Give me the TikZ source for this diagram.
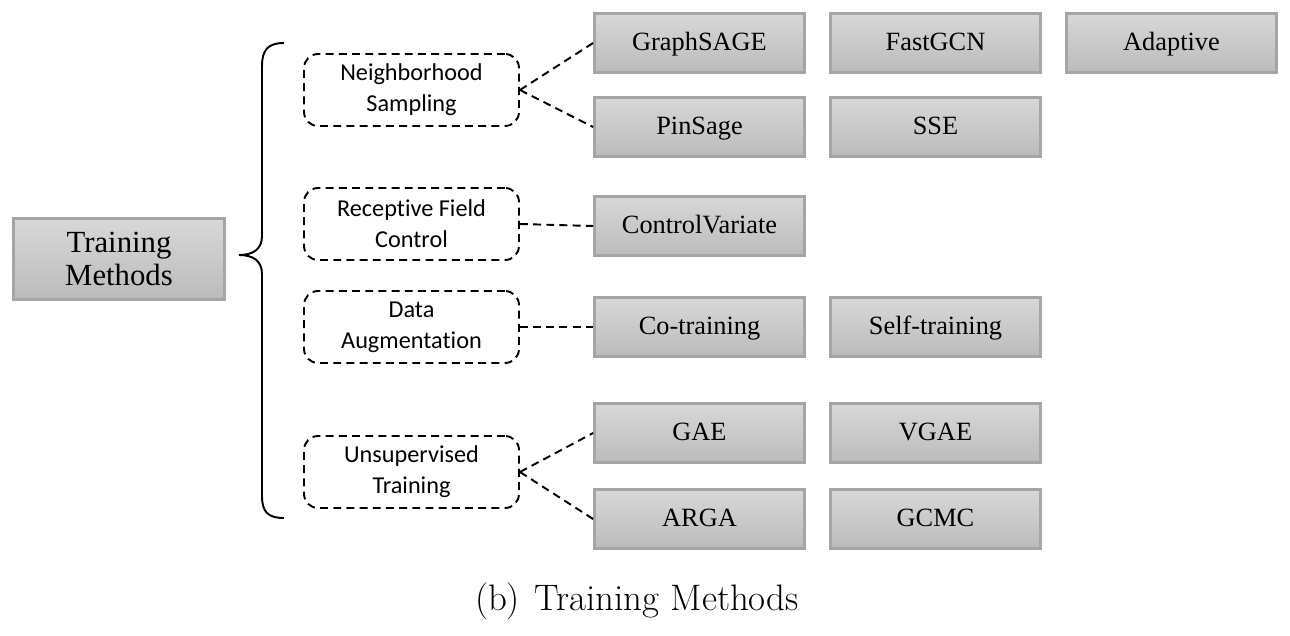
\documentclass[tikz,border=0pt]{standalone}
\usepackage{fontspec}
\usepackage{tikz}
\usetikzlibrary{positioning,calc}
\newfontfamily\methodfont{Liberation Serif}
\newfontfamily\catfont[Ligatures=NoCommon]{Carlito}
\definecolor{boxedge}{HTML}{A5A5A5}
\definecolor{boxtop}{HTML}{D8D8D8}
\definecolor{boxbottom}{HTML}{BBBBBB}

\begin{document}
\begin{tikzpicture}[x=0.02cm,y=-0.02cm,
    method/.style={draw=boxedge, line width=1.6pt, top color=boxtop, bottom color=boxbottom,
      minimum width=4.2cm, minimum height=1.18cm, inner sep=0pt, align=center,
      text height=1.08em, text depth=0.18em,
      font=\methodfont\fontsize{15}{18}\selectfont},
    category/.style={draw, line width=1.1pt, dash pattern=on 4.5pt off 3pt, rounded corners=8pt,
      minimum width=4.3cm, minimum height=1.44cm, inner sep=0pt, align=center,
      font=\catfont\fontsize{13.8}{17.6}\selectfont},
    link/.style={line width=1.1pt, dash pattern=on 4.5pt off 3pt}]
    \useasboundingbox (0,0) rectangle (1290,635);

    % root
    \node[method, minimum width=4.22cm, minimum height=1.62cm, text height=, text depth=,
      font=\methodfont\fontsize{17.5}{19.3}\selectfont] (train) at (119,259) {Training\\Methods};

    % brace
    \draw[line width=1.1pt] (284,43) .. controls (268,43) and (262,50) .. (262,66)
      -- (262,236) .. controls (262,250) and (252,255) .. (239,255)
      .. controls (252,255) and (262,260) .. (262,274)
      -- (262,496) .. controls (262,512) and (268,518) .. (284,518);

    % categories
    \node[category] (ns) at (411.5,90) {Neighborhood\\Sampling};
    \node[category] (rf) at (411.5,224) {Receptive Field\\Control};
    \node[category] (da) at (411.5,327) {Data\\Augmentation};
    \node[category] (ut) at (411.5,472) {Unsupervised\\Training};

    % methods
    \node[method] (graphsage) at (699.5,43) {GraphSAGE};
    \node[method] (fastgcn) at (935.5,43) {FastGCN};
    \node[method] (adaptive) at (1171.5,43) {Adaptive};
    \node[method] (pinsage) at (699.5,127) {PinSage};
    \node[method] (sse) at (935.5,127) {SSE};
    \node[method] (cv) at (699.5,226) {ControlVariate};
    \node[method] (cotrain) at (699.5,327) {Co-training};
    \node[method] (selftrain) at (935.5,327) {Self-training};
    \node[method] (gae) at (699.5,433) {GAE};
    \node[method] (vgae) at (935.5,433) {VGAE};
    \node[method] (arga) at (699.5,519) {ARGA};
    \node[method] (gcmc) at (935.5,519) {GCMC};

    \draw[link] (ns.east) -- (graphsage.west);
    \draw[link] (ns.east) -- (pinsage.west);
    \draw[link] (rf.east) -- (cv.west);
    \draw[link] (da.east) -- (cotrain.west);
    \draw[link] (ut.east) -- (gae.west);
    \draw[link] (ut.east) -- (arga.west);

    % caption
    \node[font=\fontsize{21}{24}\selectfont] (caption) at (637,601) {(b)\hspace{0.4em}Training Methods};
\end{tikzpicture}
\end{document}
